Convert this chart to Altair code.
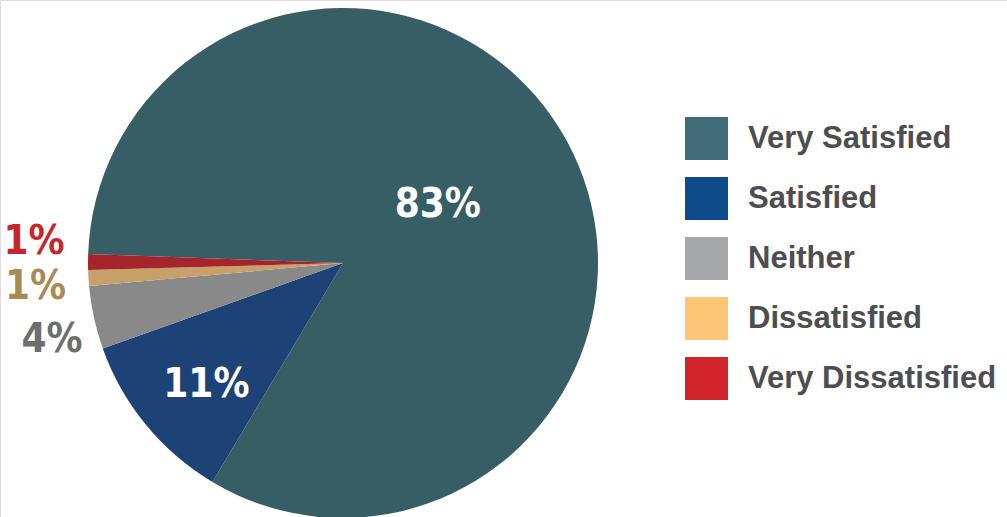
import math
import altair as alt
import pandas as pd

categories = ["Very Satisfied", "Satisfied", "Neither", "Dissatisfied", "Very Dissatisfied"]
values = [83, 11, 4, 1, 1]
labels = ["83%", "11%", "4%", "1%", "1%"]

pie_colors = ["#365e64", "#1d4275", "#898989", "#c8a06a", "#a6242b"]
legend_colors = ["#3f6c77", "#0e4b8a", "#a6a8ab", "#fdc674", "#d1232a"]

df = pd.DataFrame({
    "category": categories,
    "value": values,
    "label": labels,
    "order": list(range(len(categories))),
})

start = math.radians(272)
theta_scale = alt.Scale(domain=[0, 100], range=[start, start + 2 * math.pi])

CX, CY, R = 343, 263, 255
LABEL_FONT = "DejaVu Sans Condensed, Liberation Sans Narrow, Roboto Condensed, Liberation Sans, sans-serif"

base = alt.Chart(df)

pie = base.mark_arc(radius=R, stroke=None).encode(
    theta=alt.Theta("value:Q", stack=True, scale=theta_scale),
    order=alt.Order("order:Q"),
    color=alt.Color("category:N", sort=categories,
                    scale=alt.Scale(domain=categories, range=pie_colors),
                    legend=None),
    x=alt.value(CX),
    y=alt.value(CY),
)

legend_layer = base.mark_point(opacity=0, filled=True, shape="square", size=1).encode(
    color=alt.Color(
        "category:N", sort=categories,
        scale=alt.Scale(domain=categories, range=legend_colors),
        legend=alt.Legend(
            title=None, orient="none", legendX=685, legendY=117,
            symbolType="square", symbolSize=1849, symbolOpacity=1,
            symbolStrokeWidth=0, labelFont="Liberation Sans",
            labelFontWeight="bold", labelFontSize=31, labelColor="#4d4e52",
            labelOffset=20, rowPadding=17, labelLimit=400, padding=0,
        ),
    ),
    x=alt.value(CX),
    y=alt.value(CY),
)

label_styles = {
    "Very Satisfied": dict(color="white", radius=108, dx=0, dy=-6),
    "Satisfied": dict(color="white", radius=182, dx=4, dy=6),
    "Neither": dict(color="#6d6e70", radius=298, dx=0, dy=13),
    "Dissatisfied": dict(color="#a98a57", radius=310, dx=2, dy=6),
    "Very Dissatisfied": dict(color="#c6262d", radius=313, dx=4, dy=-20),
}

text_layers = []
for cat in categories:
    st = label_styles[cat]
    t = (
        base.transform_window(cum="sum(value)", frame=[None, 0], sort=[alt.SortField("order")])
        .transform_calculate(mid="datum.cum - datum.value / 2")
        .transform_filter(alt.datum.category == cat)
        .mark_text(
            radius=st["radius"], dx=st["dx"], dy=st["dy"], color=st["color"],
            font=LABEL_FONT, fontWeight="bold", fontSize=40,
            align="center", baseline="middle",
        )
        .encode(
            theta=alt.Theta("mid:Q", stack=False, scale=theta_scale),
            text="label:N",
            x=alt.value(CX),
            y=alt.value(CY),
        )
    )
    text_layers.append(t)

chart = (
    alt.layer(pie, legend_layer, *text_layers)
    .resolve_scale(color="independent")
    .properties(width=1007, height=517, padding=0, autosize=alt.AutoSizeParams(type="none"))
    .configure_view(stroke=None)
    .configure(background="white")
)

chart.save("out.html", embed_options={"renderer": "svg", "actions": False})
